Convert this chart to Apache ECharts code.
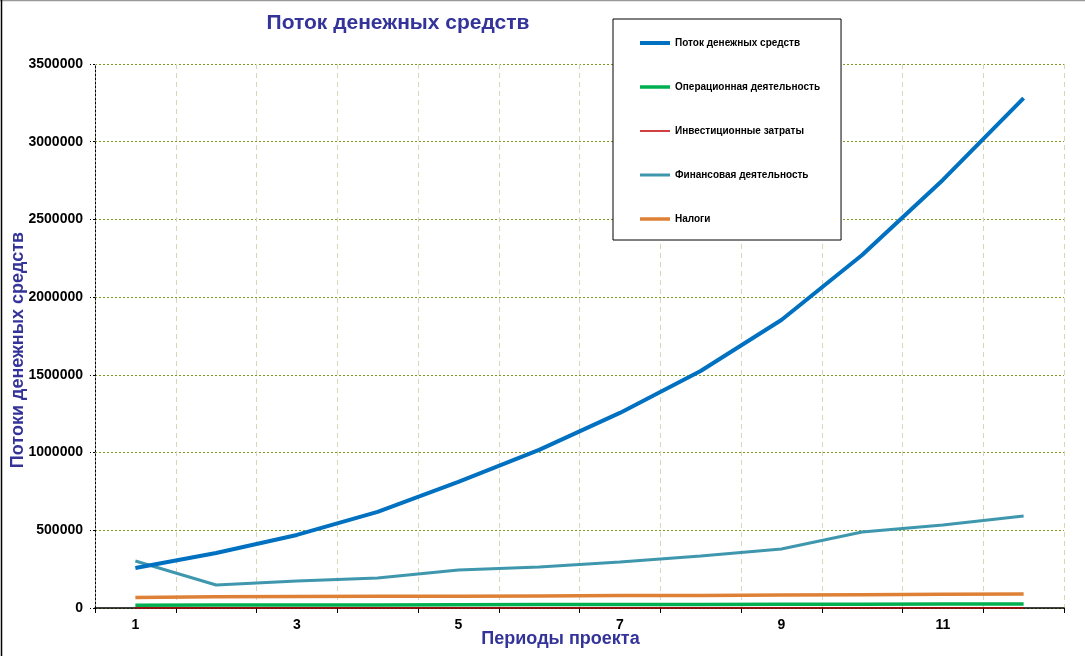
<!DOCTYPE html>
<html><head><meta charset="utf-8">
<script src="https://cdn.jsdelivr.net/npm/echarts@6/dist/echarts.min.js"></script>
<style>html,body{margin:0;padding:0;background:#fff}#c{width:1085px;height:656px}</style>
</head><body><div id="c"></div>
<script>
const periods = ['1','2','3','4','5','6','7','8','9','10','11','12'];
const cashFlow = [257000, 354000, 470000, 618000, 811000, 1017000, 1255000, 1525000, 1853000, 2271000, 2754000, 3281000];
const operating = [18000, 19000, 19000, 20000, 21000, 22000, 22000, 23000, 24000, 24000, 25000, 26000];
const investment = [0, 0, 0, 0, 0, 0, 0, 0, 0, 0, 0, 0];
const financing = [302000, 148000, 174000, 193000, 244000, 264000, 296000, 335000, 380000, 489000, 534000, 592000];
const taxes = [68000, 72000, 74000, 75000, 76000, 78000, 80000, 81000, 84000, 86000, 88000, 90000];
const seriesNames = ['Поток денежных средств','Операционная деятельность','Инвестиционные затраты','Финансовая деятельность','Налоги'];

const chart = echarts.init(document.getElementById('c'));
const F = 'Liberation Sans, Arial, sans-serif';
const colors = ['#0070c0','#00b050','#c00000','#3f97ae','#de8136'];
const widths = [4, 3.5, 1.5, 3, 3.5];
function mk(i, data, z) {
  return {name: seriesNames[i], type:'line', data, symbol:'none', showSymbol:false, z: z,
    lineStyle:{color: colors[i], width: widths[i]}, itemStyle:{color: colors[i]}};
}
const legendData = seriesNames.map((n, i) => ({
  name: n,
  icon: 'path://M0,0L30,0L30,' + widths[i] + 'L0,' + widths[i] + 'Z',
  itemStyle: {color: colors[i], borderWidth: 0}
}));
chart.setOption({
  animation:false,
  backgroundColor:'#fff',
  title:{text:'Поток денежных средств', left:393, top:8, textAlign:'center',
    textStyle:{fontFamily:F, fontSize:21, fontWeight:'bold', color:'#333399'}},
  legend:{orient:'vertical', left:613, top:19,
    padding:[19,21,16,27], itemGap:34, itemWidth:30, itemHeight:14,
    symbolKeepAspect:true,
    borderColor:'#000', borderWidth:1, backgroundColor:'#fff',
    textStyle:{fontFamily:F, fontSize:10, fontWeight:'bold', color:'#000'},
    data: legendData},
  grid:{left:95, right:21, top:64, bottom:48, containLabel:false, outerBoundsMode:'none'},
  xAxis:{type:'category', data:periods, boundaryGap:true,
    name:'Периоды проекта', nameLocation:'middle', nameGap:22, nameMoveOverlap:false,
    nameTextStyle:{fontFamily:F, fontSize:18, fontWeight:'bold', color:'#333399', padding:[0,38,0,0]},
    axisLine:{lineStyle:{color:'#000', width:1.5}},
    axisTick:{show:true, alignWithLabel:false, interval:0, length:5, lineStyle:{color:'#000'}},
    axisLabel:{interval:1, fontFamily:F, fontSize:14, fontWeight:'bold', color:'#000', margin:10},
    splitLine:{show:true, interval:0, lineStyle:{color:'#d6d6b8', type:[5,4], width:1}}
  },
  yAxis:{type:'value', min:0, max:3500000, interval:500000,
    name:'Потоки денежных средств', nameLocation:'middle', nameGap:68, nameMoveOverlap:false,
    nameTextStyle:{fontFamily:F, fontSize:18, fontWeight:'bold', color:'#333399', padding:[0,28,0,0]},
    axisLine:{show:true, lineStyle:{color:'#000', type:[2,2], width:1}},
    axisTick:{show:true, length:5, lineStyle:{color:'#000', type:[2,2]}},
    axisLabel:{fontFamily:F, fontSize:14, fontWeight:'bold', color:'#000', margin:12,
      formatter: v => String(v)},
    splitLine:{show:true, lineStyle:{color:'#7a9a20', type:[2,2], width:1}}
  },
  graphic:[
    {type:'line', shape:{x1:0,y1:0.5,x2:1085,y2:0.5}, style:{stroke:'#999', lineWidth:1.5}, silent:true},
    {type:'line', shape:{x1:1.5,y1:0,x2:1.5,y2:656}, style:{stroke:'#000', lineWidth:1.5}, silent:true}
  ],
  series:[
    mk(0, cashFlow, 5),
    mk(1, operating, 4),
    mk(2, investment, 3),
    mk(3, financing, 4),
    mk(4, taxes, 4)
  ]
});
</script></body></html>
